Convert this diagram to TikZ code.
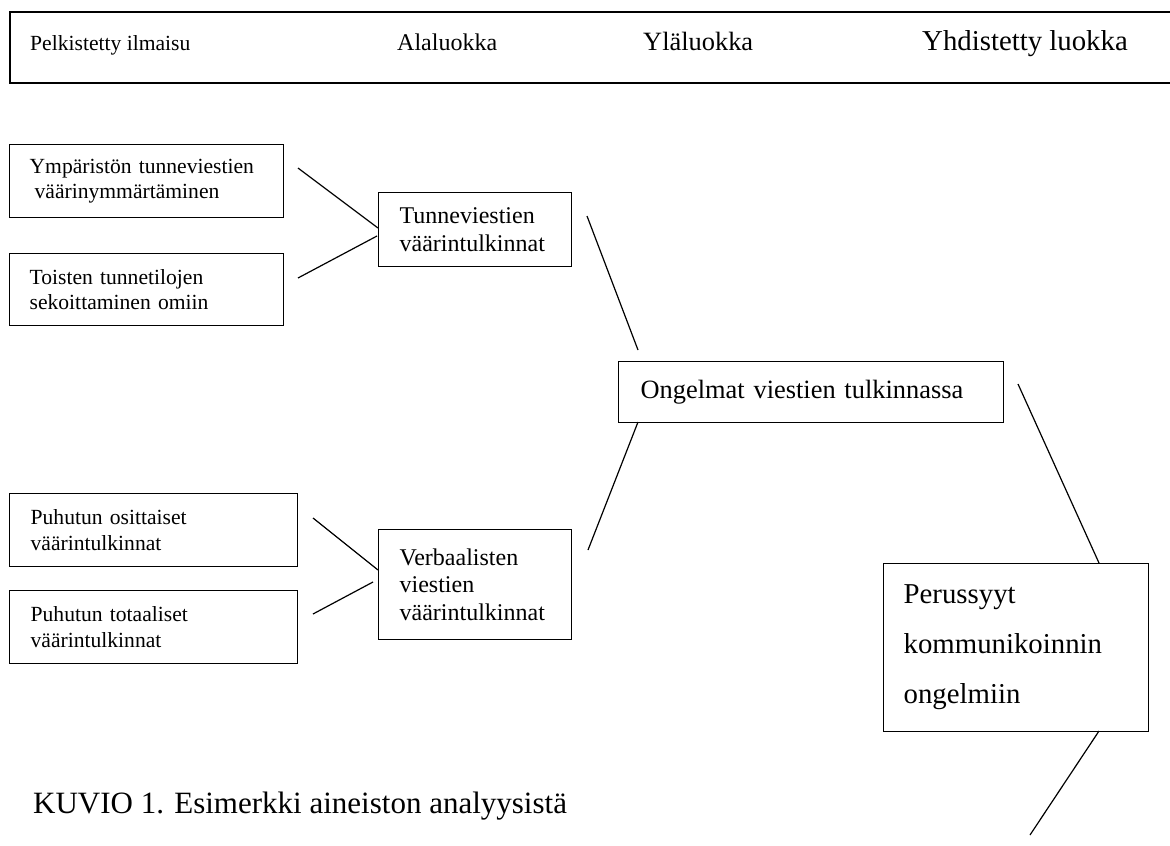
\documentclass[tikz,border=0pt]{standalone}
\usepackage{fontspec}
\setmainfont{Liberation Serif}
\begin{document}
\begin{tikzpicture}[x=1pt,y=-1pt,
  box/.style={draw, line width=1.3pt, rectangle, anchor=north west, align=left, inner ysep=0pt, inner xsep=20pt},
  hdr/.style={anchor=base west, inner sep=0pt},
  conn/.style={line width=1.2pt},
  afont/.style={font=\fontsize{21.6}{25.5}\selectfont},
  bfont/.style={font=\fontsize{24}{27.5}\selectfont}
]
\useasboundingbox (0,0) rectangle (1170,846);
\fill[white] (0,0) rectangle (1170,846);

% header band
\node[draw, line width=1.8pt, rectangle, anchor=north west, minimum width=1200pt, minimum height=71pt, inner sep=0pt] (top) at (9,11) {};
\node[hdr, font=\fontsize{21.6}{26}\selectfont] (h1) at (30,50) {Pelkistetty ilmaisu};
\node[hdr, font=\fontsize{24}{28}\selectfont] (h2) at (397,50) {Alaluokka};
\node[hdr, font=\fontsize{26.4}{30}\selectfont] (h3) at (643,50) {Yläluokka};
\node[hdr, font=\fontsize{28.8}{33}\selectfont] (h4) at (922,50) {Yhdistetty luokka};

% reduced expressions
\node[box, afont, text width=234pt, minimum height=73pt] (a1) at (9,144) {Ympäristön tunneviestien\\\hspace*{5pt}väärinymmärtäminen};
\node[box, afont, text width=234pt, minimum height=72pt] (a2) at (9,253) {Toisten tunnetilojen\\sekoittaminen omiin};
\node[box, afont, inner xsep=21pt, text width=246pt, minimum height=73pt] (a3) at (9,493) {Puhutun osittaiset\\väärintulkinnat};
\node[box, afont, inner xsep=21pt, text width=246pt, minimum height=73pt] (a4) at (9,590) {Puhutun totaaliset\\väärintulkinnat};

% subclasses
\node[box, bfont, inner xsep=21pt, text width=151pt, minimum height=74pt] (b1) at (378,192) {Tunneviestien\\väärintulkinnat};
\node[box, bfont, inner xsep=21pt, text width=151pt, minimum height=110pt] (b2) at (378,529) {Verbaalisten\\viestien\\väärintulkinnat};

% upper class
\node[box, font=\fontsize{26.4}{30}\selectfont, inner xsep=22pt, text width=341pt, minimum height=61pt] (c) at (618,361) {Ongelmat viestien tulkinnassa};

% combined class
\node[box, font=\fontsize{28.8}{50}\selectfont, inner xsep=20pt, text width=225pt, minimum height=168pt] (e) at (883,563) {Perussyyt\\kommunikoinnin\\ongelmiin};

% caption
\node[hdr, font=\fontsize{31}{36}\selectfont] (cap) at (33,813) {KUVIO 1. Esimerkki aineiston analyysistä};

% connector end points
\coordinate (p1) at (298,168);
\coordinate (q1) at (378,228);
\coordinate (p2) at (298,278);
\coordinate (q2) at (377,236);
\coordinate (p3) at (313,518);
\coordinate (q3) at (378,570);
\coordinate (p4) at (313,614);
\coordinate (q4) at (373,582);
\coordinate (r1) at (587,216);
\coordinate (s1) at (638,350);
\coordinate (r2) at (588,550);
\coordinate (s2) at (638,422);
\coordinate (u1) at (1018,384);
\coordinate (v1) at (1099,563);
\coordinate (u2) at (1099,731);
\coordinate (v2) at (1030,835);

\draw[conn] (p1) -- (q1);
\draw[conn] (p2) -- (q2);
\draw[conn] (p3) -- (q3);
\draw[conn] (p4) -- (q4);
\draw[conn] (r1) -- (s1);
\draw[conn] (r2) -- (s2);
\draw[conn] (u1) -- (v1);
\draw[conn] (u2) -- (v2);
\end{tikzpicture}
\end{document}
